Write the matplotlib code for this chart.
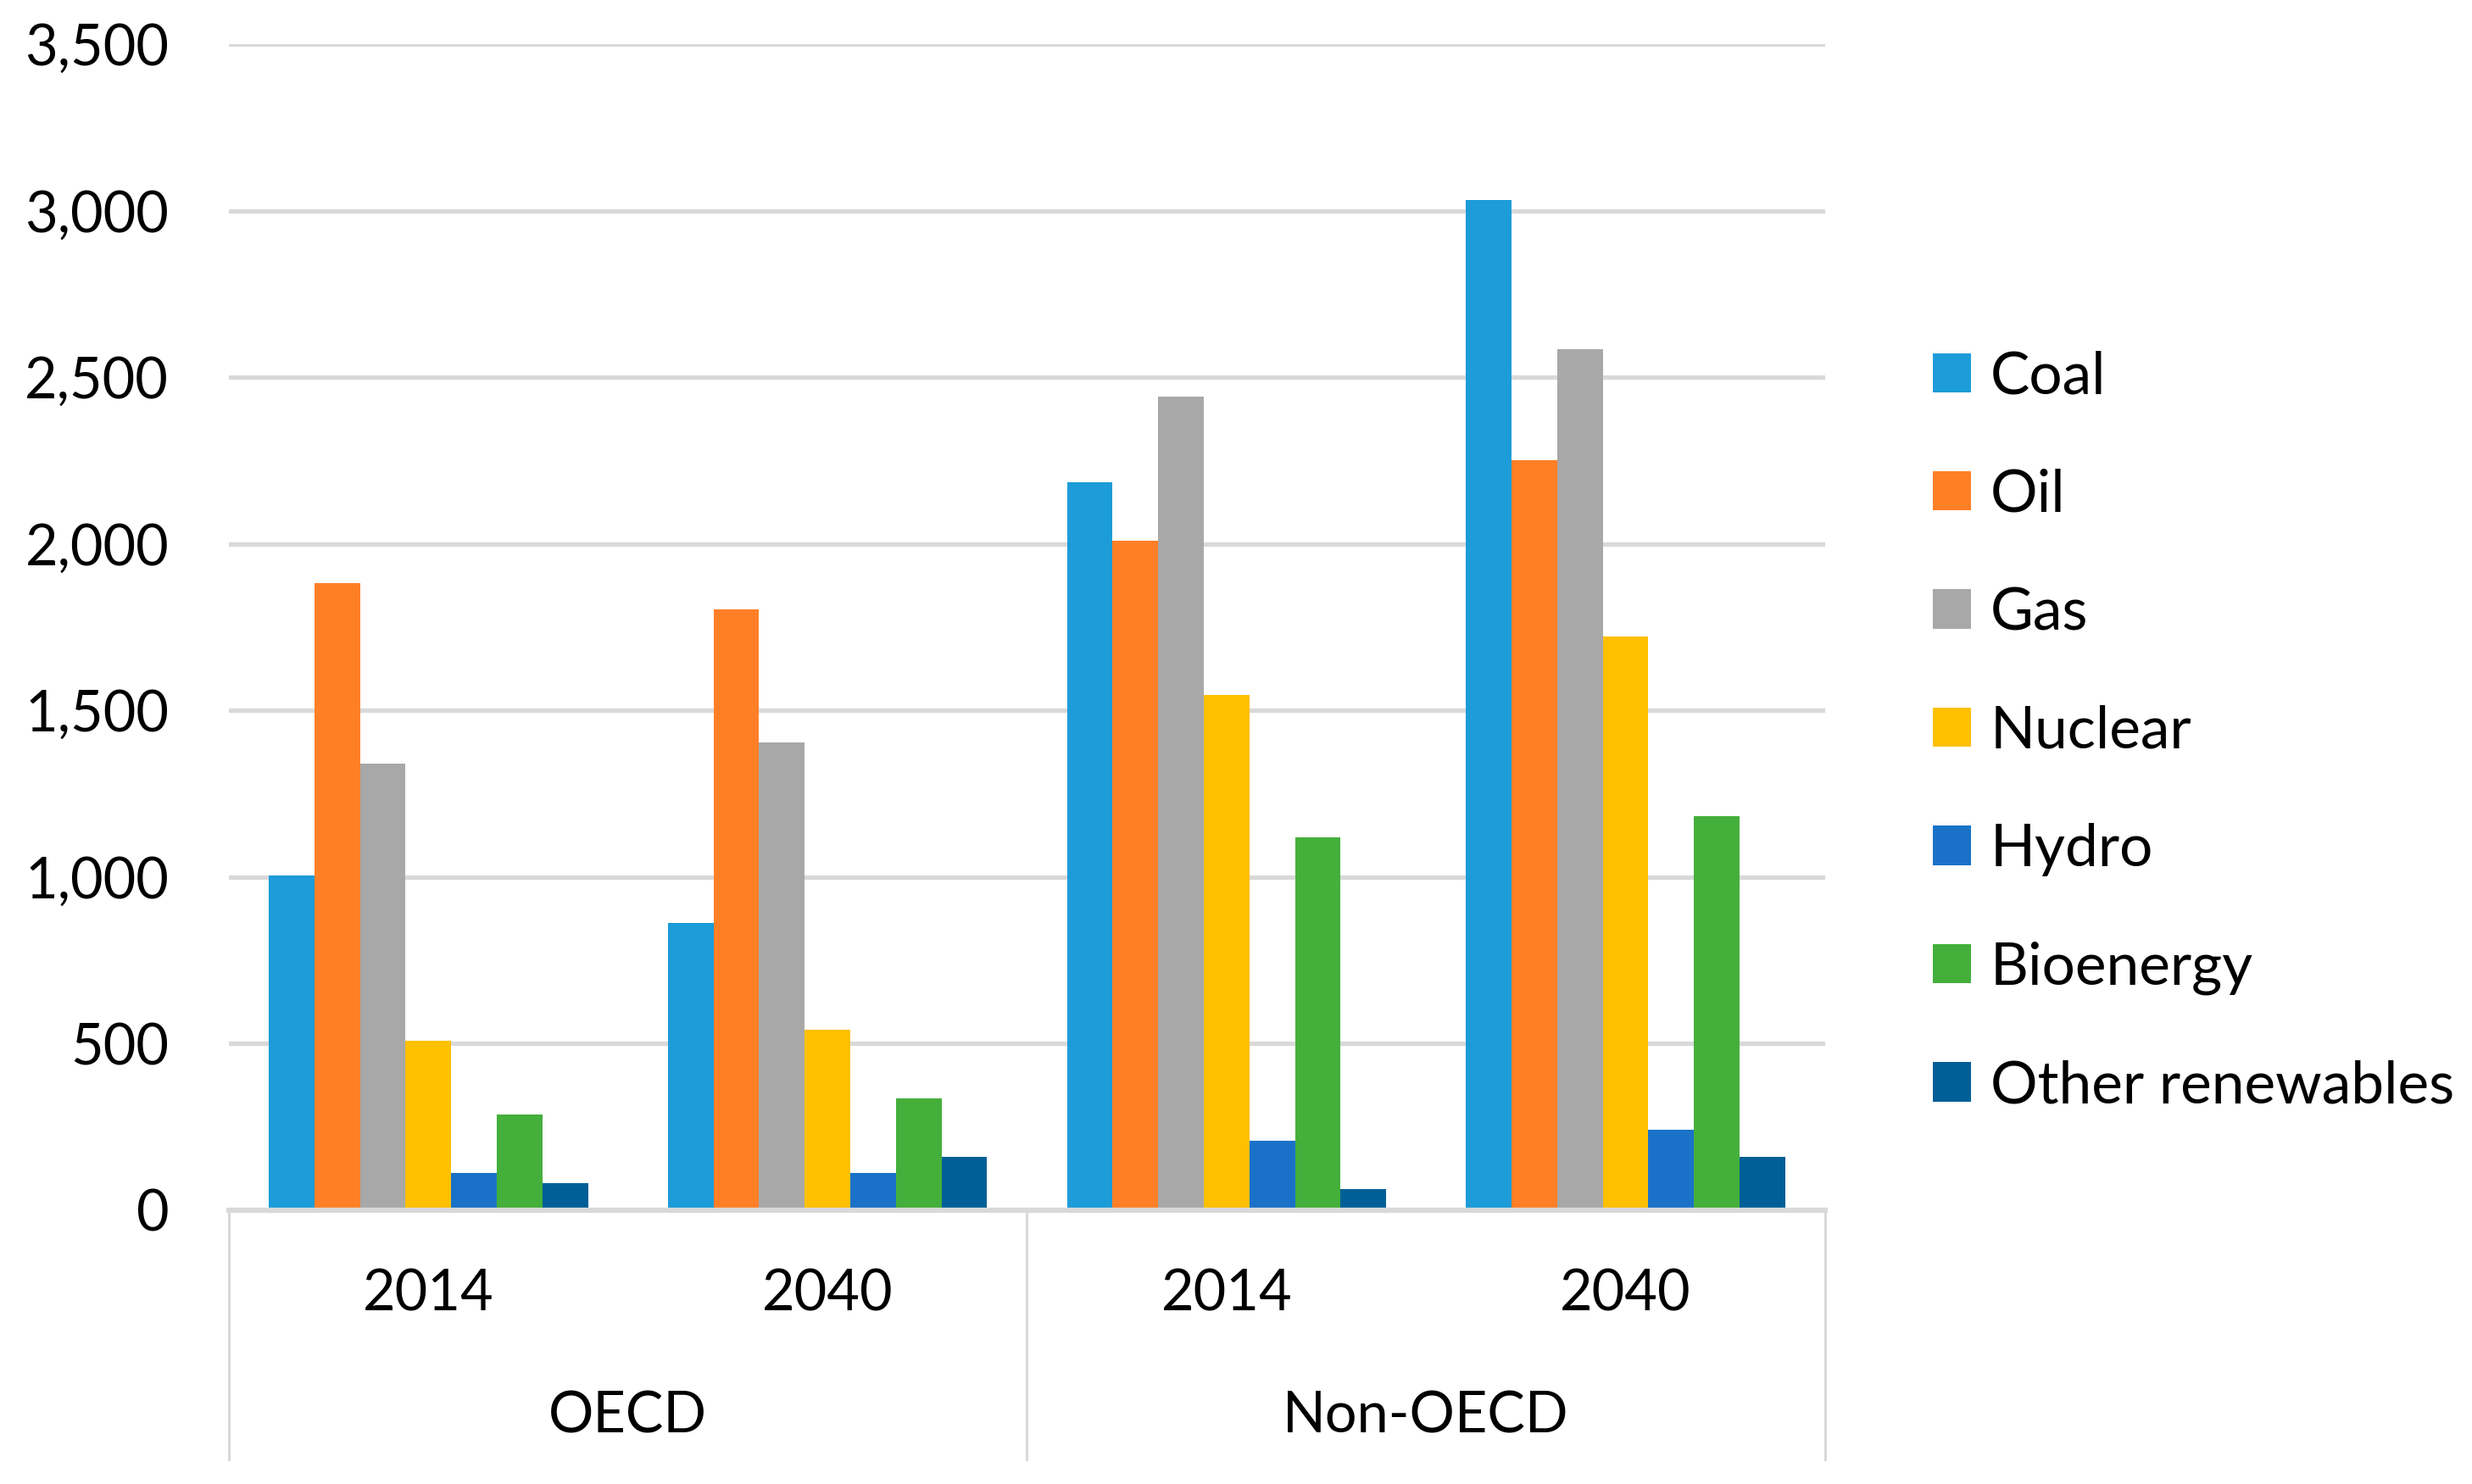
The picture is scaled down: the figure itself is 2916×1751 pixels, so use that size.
import matplotlib.pyplot as plt
import numpy as np

plt.rcParams['font.family'] = ['Lato', 'DejaVu Sans']

years = ['2014', '2040', '2014', '2040']
regions = ['OECD', 'Non-OECD']
fuels = ['Coal', 'Oil', 'Gas', 'Nuclear', 'Hydro', 'Bioenergy', 'Other renewables']

coal = [1005, 863, 2186, 3033]
oil = [1882, 1804, 2009, 2250]
gas = [1340, 1403, 2441, 2583]
nuclear = [509, 542, 1547, 1722]
hydro = [113, 113, 208, 241]
bioenergy = [288, 335, 1118, 1182]
other = [80, 160, 64, 160]

series = [coal, oil, gas, nuclear, hydro, bioenergy, other]
colors = ['#1C9CD8', '#FF7F27', '#A8A8A8', '#FFC000', '#1A72C8', '#44AF3B', '#005F96']

fig = plt.figure(figsize=[29.16, 17.51], dpi=100)
ax = fig.add_axes([0.0926, 0.1845, 0.7383 - 0.0926, 0.9703 - 0.1845])

x = np.arange(len(years))
w = 0.8 / len(series)
for i, (vals, c, name) in enumerate(zip(series, colors, fuels)):
    ax.bar(x - 0.4 + w * (i + 0.5), vals, w, color=c, label=name, zorder=3)

ax.set_xlim(-0.5, 3.5)
ax.set_ylim(0, 3500)
ax.set_yticks(range(0, 3501, 500))
ax.set_yticklabels([f'{v:,}' for v in range(0, 3501, 500)])
ax.tick_params(axis='y', length=0, pad=51, labelsize=48)
ax.set_xticks([])
ax.grid(axis='y', color='#D9D9D9', linewidth=3.8, zorder=0)
for s in ['left', 'right', 'top']:
    ax.spines[s].set_visible(False)
ax.spines['bottom'].set_color('#D9D9D9')
ax.spines['bottom'].set_linewidth(4.5)
ax.spines['bottom'].set_zorder(4)

# category box under the axis
tr = ax.get_xaxis_transform()
for xv in [-0.5, 1.5, 3.5]:
    ax.plot([xv, xv], [0, -0.214], transform=tr, color='#D9D9D9', lw=2.2, clip_on=False)
for xi, yr in zip(x, years):
    ax.text(xi, -0.072, yr, transform=tr, ha='center', va='center', fontsize=48)
for gi, reg in enumerate(regions):
    ax.text(0.5 + 2 * gi, -0.177, reg, transform=tr, ha='center', va='center', fontsize=48)

ax.legend(loc='upper left', bbox_to_anchor=(0.782, 0.764), bbox_transform=fig.transFigure,
          frameon=False, fontsize=50, handlelength=0.65, handleheight=0.65,
          handletextpad=0.32, labelspacing=1.1, borderaxespad=0, borderpad=0)

plt.savefig('out.png')
